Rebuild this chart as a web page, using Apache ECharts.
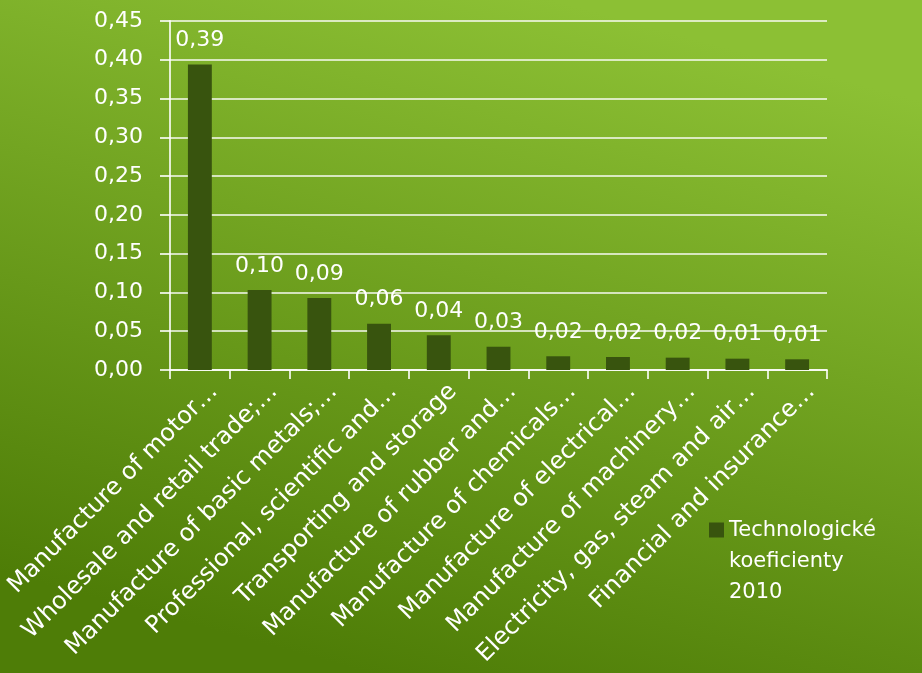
<!DOCTYPE html>
<html>
<head>
<meta charset="utf-8">
<script src="https://cdn.jsdelivr.net/npm/echarts@6/dist/echarts.min.js"></script>
<style>
  html, body { margin: 0; padding: 0; }
  #chart { width: 922px; height: 673px; }
</style>
</head>
<body>
<div id="chart"></div>
<script>
// kategorie (zkracene jako v originalu)
var categories = [
    'Manufacture of motor…',
    'Wholesale and retail trade;…',
    'Manufacture of basic metals;…',
    'Professional, scientific and…',
    'Transporting and storage',
    'Manufacture of rubber and…',
    'Manufacture of chemicals…',
    'Manufacture of electrical…',
    'Manufacture of machinery…',
    'Electricity, gas, steam and air…',
    'Financial and insurance…'
];
var values = [0.394, 0.103, 0.0928, 0.0597, 0.0448, 0.030, 0.0177, 0.0168, 0.0159, 0.0146, 0.0138];
var seriesName = 'Technologické koeficienty 2010';
var legendLines = ['Technologické', 'koeficienty', '2010'];

var font = 'DejaVu Sans';
var white = '#ffffff';
var lineCol = 'rgba(255,255,255,0.8)';
var fmt = function (v) { return v.toFixed(2).replace('.', ','); };

var chart = echarts.init(document.getElementById('chart'));
var option = {
    backgroundColor: {
        type: 'linear', x: 0.4, y: 1, x2: 0.6, y2: 0,
        colorStops: [
            { offset: 0, color: '#4e7d07' },
            { offset: 1, color: '#8cc034' }
        ]
    },
    textStyle: { fontFamily: font },
    grid: { left: 170, right: 95, top: 21, bottom: 303, containLabel: false, outerBoundsMode: 'none' },
    legend: {
        left: 704, top: 510,
        orient: 'vertical',
        // ctverec nahore, text zarovnany k prvnimu radku
        icon: 'path://M0,0h15v15h-15z M0,78h0.01',
        itemWidth: 15, itemHeight: 93,
        itemGap: 6,
        textStyle: { color: white, fontSize: 21, fontFamily: font, lineHeight: 31 },
        formatter: function () { return legendLines.join('\n'); },
        data: [seriesName]
    },
    xAxis: {
        type: 'category',
        data: categories,
        axisLine: { lineStyle: { color: lineCol, width: 2 } },
        axisTick: { show: true, length: 9, lineStyle: { color: lineCol, width: 2 } },
        axisLabel: {
            rotate: 45, interval: 0, margin: 32,
            padding: [0, -20, 0, 0],
            color: white, fontSize: 24, fontFamily: font
        }
    },
    yAxis: {
        type: 'value',
        min: 0, max: 0.45, interval: 0.05,
        axisLine: { show: true, lineStyle: { color: lineCol, width: 2 } },
        axisTick: { show: true, length: 10, lineStyle: { color: lineCol, width: 2 } },
        splitLine: { lineStyle: { color: 'rgba(255,255,255,0.7)', width: 2 } },
        axisLabel: {
            margin: 27, color: white, fontSize: 22, fontFamily: font,
            formatter: function (v) { return fmt(v); }
        }
    },
    series: [{
        name: seriesName,
        type: 'bar',
        data: values,
        barCategoryGap: '60%',
        itemStyle: { color: '#38540e' },
        label: {
            show: true, position: 'top', distance: 13,
            color: white, fontSize: 22, fontFamily: font,
            formatter: function (p) { return fmt(p.value); }
        }
    }]
};
chart.setOption(option);
</script>
</body>
</html>
